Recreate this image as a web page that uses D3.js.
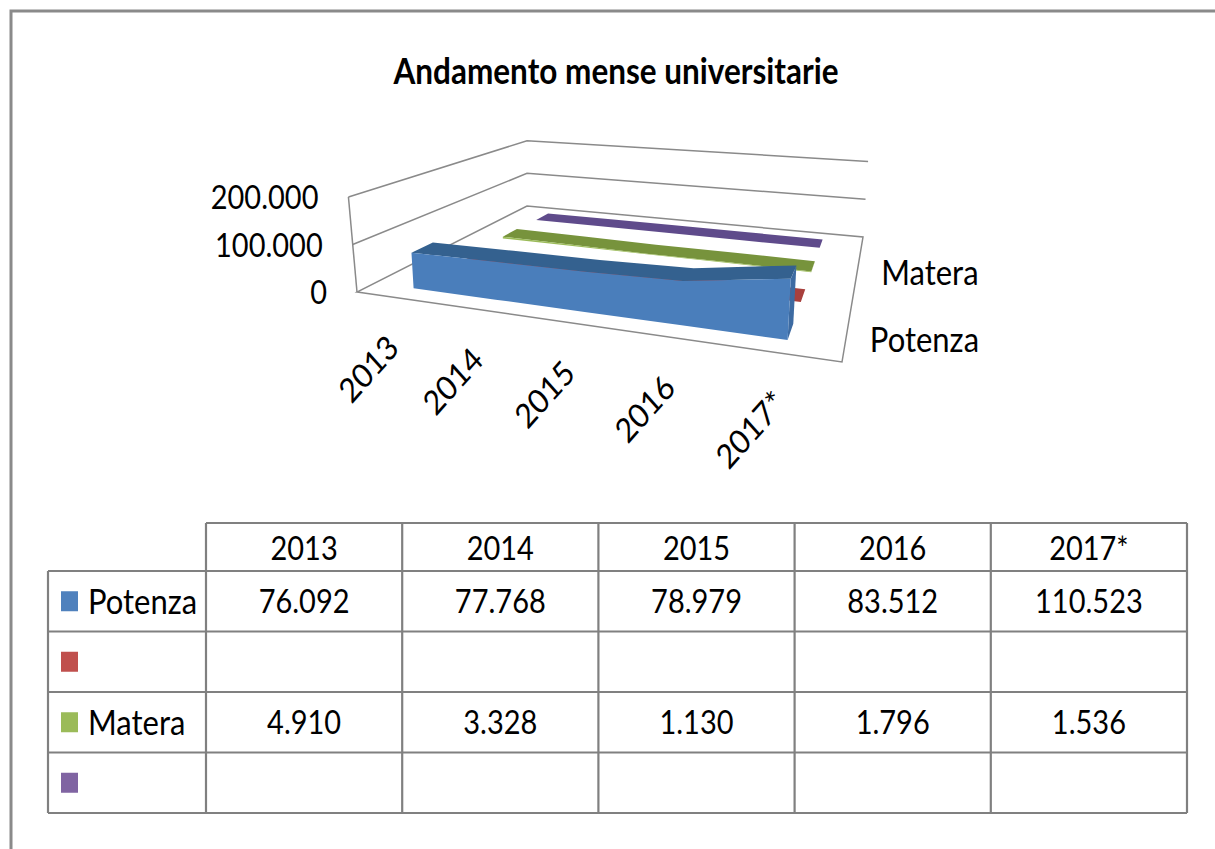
<!DOCTYPE html>
<html>
<head>
<meta charset="utf-8">
<script src="https://cdn.jsdelivr.net/npm/d3@7"></script>
<style>
    html, body { margin: 0; padding: 0; background: #fff; }
    svg { display: block; }
    text { font-family: Lato, 'Open Sans', sans-serif; fill: #000; }
</style>
</head>
<body>
<svg id="chart" width="1215" height="849"></svg>
<script>
// ---------------------------------------------------------------------------
// Data
// ---------------------------------------------------------------------------
const chartTitle = 'Andamento mense universitarie';
const years = ['2013', '2014', '2015', '2016', '2017*'];
const seriesNames = ['Potenza', '', 'Matera', ''];
const potenza = [76092, 77768, 78979, 83512, 110523];
const serie2 = [null, null, null, null, null];
const matera = [4910, 3328, 1130, 1796, 1536];
const serie4 = [null, null, null, null, null];
const yTicks = [0, 100000, 200000];

const seriesValues = [potenza, serie2, matera, serie4];

// styles
const frontColors = ['#4a7ebb', '#c0504d', '#9bbb59', '#8064a2'];
const topColors = ['#34618f', '#a8403d', '#77933c', '#5f4b8b'];
const capColors = ['#3d6ba2', '#b04440', '#86a447', '#6c5596'];
const keyColors = ['#4F81BD', '#C0504D', '#9BBB59', '#8064A2'];
const gridColor = '#8a8a8a';
const SY = 1.12; // glyphs in the reference look slightly tall

const fmt = d3.formatLocale({ decimal: ',', thousands: '.', grouping: [3], currency: ['€', ''] }).format(',');

// ---------------------------------------------------------------------------
// Pseudo 3D box: floor is a perspective quad, height scales with depth
// ---------------------------------------------------------------------------
const floorQuad = [[357, 292], [842, 362], [863, 237], [527, 206]]; // (u,w) = (0,0) (1,0) (1,1) (0,1)
const wallHeight = 95; // px of the full value range at the front-left corner
const ribbonDepth = 0.1;

function squareToQuad(q) {
    const [[x0, y0], [x1, y1], [x2, y2], [x3, y3]] = q;
    const dx1 = x1 - x2, dx2 = x3 - x2, dx3 = x0 - x1 + x2 - x3;
    const dy1 = y1 - y2, dy2 = y3 - y2, dy3 = y0 - y1 + y2 - y3;
    const den = dx1 * dy2 - dx2 * dy1;
    const g = (dx3 * dy2 - dx2 * dy3) / den;
    const h = (dx1 * dy3 - dx3 * dy1) / den;
    const a = x1 - x0 + g * x1, b = x3 - x0 + h * x3, c = x0;
    const d = y1 - y0 + g * y1, e = y3 - y0 + h * y3, f = y0;
    return (u, w) => {
        const z = g * u + h * w + 1;
        return [(a * u + b * w + c) / z, (d * u + e * w + f) / z, z];
    };
}
const floor = squareToQuad(floorQuad);

const xScale = d3.scalePoint().domain(years).range([0, 1]).padding(0.5);
const zScale = d3.scalePoint().domain(d3.range(seriesNames.length)).range([0, 1]).padding(0.5);
const yScale = d3.scaleLinear().domain([0, 200000]).range([0, 1]);

function proj(u, w, val) {
    const [x, y, z] = floor(u, w);
    const hgt = wallHeight * yScale(val ?? 0) / z;
    const lean = x < 527 ? (x - 527) * 0.00053 : (x - 527) * 0.0002;
    return [x + hgt * lean, y - hgt];
}

const svg = d3.select('#chart');
const line = d3.line();
const closed = pts => line(pts) + 'Z';

function addText(parent, x, y, str, opts = {}) {
    const { size = 30, anchor = 'middle', weight = 'normal', rotate = 0, baseline = 'central' } = opts;
    return parent.append('text')
        .attr('transform', `translate(${x},${y}) scale(1,${SY})` + (rotate ? ` rotate(${rotate})` : ''))
        .attr('text-anchor', anchor)
        .attr('dominant-baseline', baseline)
        .style('font-size', size + 'px')
        .style('font-weight', weight)
        .text(str);
}

// outer frame (only top and left edges are inside the picture)
svg.append('path')
    .attr('d', 'M11,860V11H1230')
    .attr('fill', 'none')
    .attr('stroke', '#8a8a8a')
    .attr('stroke-width', 3);

// title
addText(svg, 616, 70, chartTitle, { size: 31.5, weight: 'bold' });

// ---------------------------------------------------------------------------
// Walls and floor
// ---------------------------------------------------------------------------
const grid = svg.append('g')
    .attr('fill', 'none')
    .attr('stroke', gridColor)
    .attr('stroke-width', 1.5);

yTicks.filter(t => t > 0).forEach(t => {
    grid.append('path').attr('d', line([proj(0, 0, t), proj(0, 1, t), proj(1, 1, t)]));
});
grid.append('path').attr('d', closed([proj(0, 0, 0), proj(1, 0, 0), proj(1, 1, 0), proj(0, 1, 0)]));
grid.append('path').attr('d', line([proj(0, 0, 0), proj(0, 0, d3.max(yTicks))]));

// value axis labels
yTicks.forEach(t => {
    const [x, y] = proj(0, 0, t);
    addText(svg, x - 30, y, fmt(t), { anchor: 'end', size: 29 });
});

// ---------------------------------------------------------------------------
// Ribbons, back to front
// ---------------------------------------------------------------------------
const ribbons = svg.append('g');
d3.range(seriesNames.length).reverse().forEach(k => {
    const vals = seriesValues[k];
    const wf = zScale(k) - ribbonDepth / 2;
    const wb = zScale(k) + ribbonDepth / 2;
    const frontTop = years.map((yr, i) => proj(xScale(yr), wf, vals[i]));
    const backTop = years.map((yr, i) => proj(xScale(yr), wb, vals[i]));
    const frontBase = years.map(yr => proj(xScale(yr), wf, 0));
    const last = years.length - 1;
    const uLast = xScale(years[last]);
    const g = ribbons.append('g');

    g.append('path')
        .attr('d', closed(frontTop.concat(backTop.slice().reverse())))
        .attr('fill', topColors[k]);
    g.append('path')
        .attr('d', closed([proj(uLast, wf, 0), frontTop[last], backTop[last], proj(uLast, wb, 0)]))
        .attr('fill', capColors[k]);
    g.append('path')
        .attr('d', closed(frontTop.concat(frontBase.slice().reverse())))
        .attr('fill', frontColors[k]);
});

// category labels
years.forEach(yr => {
    const [x, y] = proj(xScale(yr), 0, 0);
    addText(svg, x + 4, y + 52, yr, { anchor: 'end', rotate: -45, baseline: 'alphabetic' });
});

// series labels on the depth axis
seriesNames.forEach((name, k) => {
    if (!name) return;
    const [x, y] = proj(1, zScale(k), 0);
    addText(svg, x + 24, y, name, { anchor: 'start', size: 31 });
});

// ---------------------------------------------------------------------------
// Data table
// ---------------------------------------------------------------------------
const tableLeft = 48, headTop = 523;
const colScale = d3.scaleBand().domain(years).range([206, 1187]);
const rowScale = d3.scaleBand().domain(d3.range(seriesNames.length)).range([571, 813]);
const tableRight = colScale.range()[1];
const tableBottom = rowScale.range()[1];

const table = svg.append('g');
const rules = table.append('g')
    .attr('stroke', '#808080')
    .attr('stroke-width', 2.2)
    .attr('fill', 'none');

rules.append('path').attr('d', `M${colScale.range()[0]},${headTop}H${tableRight}`);
rowScale.domain().forEach(r => {
    rules.append('path').attr('d', `M${tableLeft},${rowScale(r)}H${tableRight}`);
});
rules.append('path').attr('d', `M${tableLeft},${tableBottom}H${tableRight}`);
rules.append('path').attr('d', `M${tableLeft},${rowScale.range()[0]}V${tableBottom}`);
years.forEach(yr => {
    rules.append('path').attr('d', `M${colScale(yr)},${headTop}V${tableBottom}`);
});
rules.append('path').attr('d', `M${tableRight},${headTop}V${tableBottom}`);

years.forEach(yr => {
    addText(table, colScale(yr) + colScale.bandwidth() / 2, (headTop + rowScale.range()[0]) / 2 + 1, yr, { size: 29 });
});

seriesNames.forEach((name, k) => {
    const cy = rowScale(k) + rowScale.bandwidth() / 2;
    table.append('rect')
        .attr('x', 61).attr('y', cy - 10)
        .attr('width', 17).attr('height', 20)
        .attr('fill', keyColors[k]);
    if (name) addText(table, 88, cy, name, { anchor: 'start', size: 31 });
    seriesValues[k].forEach((v, i) => {
        if (v == null) return;
        addText(table, colScale(years[i]) + colScale.bandwidth() / 2, cy, fmt(v), { size: 29 });
    });
});
</script>
</body>
</html>
